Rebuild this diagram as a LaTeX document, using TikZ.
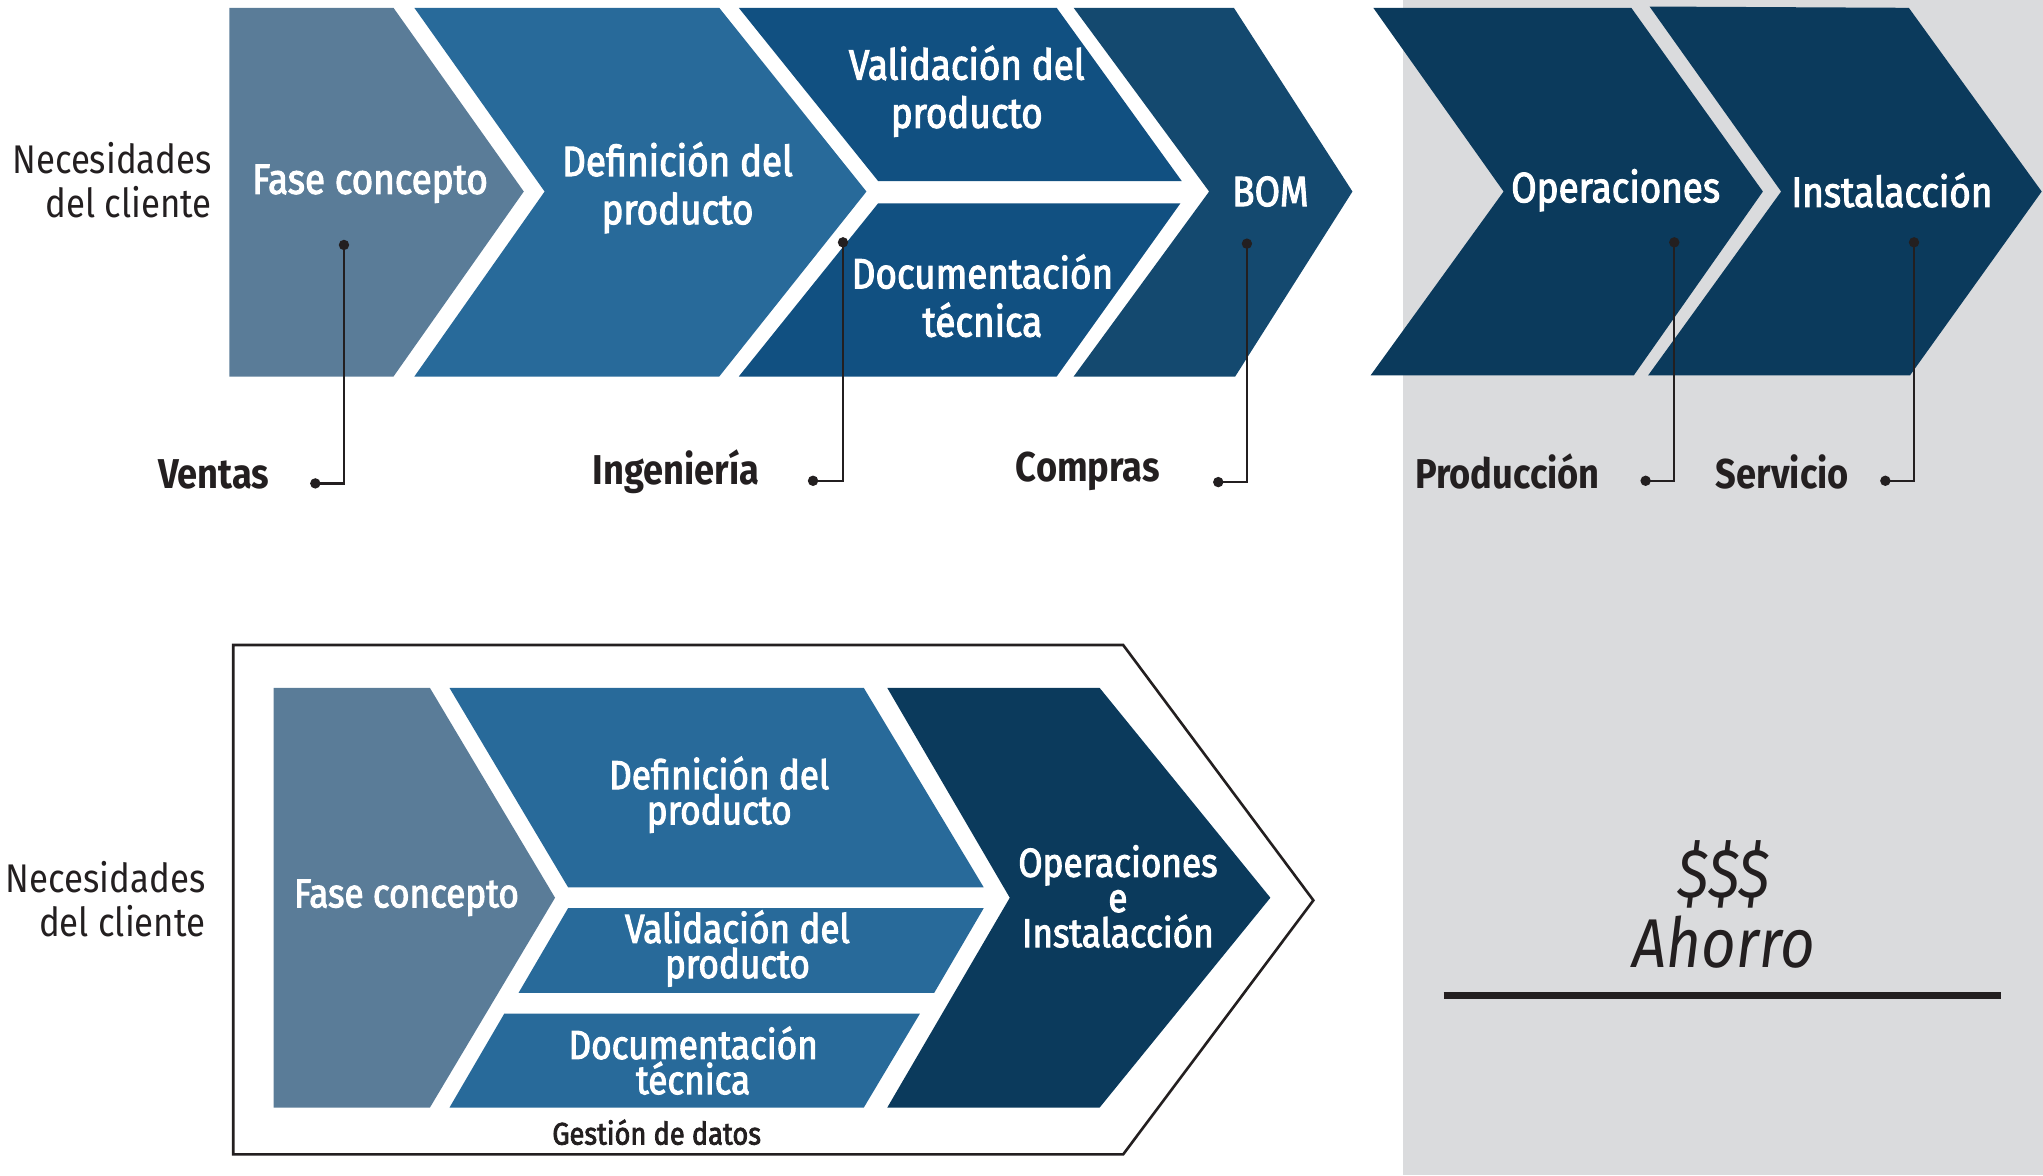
\documentclass[tikz,border=0pt]{standalone}
\usepackage{fontspec}
\setmainfont{Fira Sans}[FakeStretch=0.87]
\newfontfamily\wfont{Fira Sans}[FakeStretch=0.87, FakeBold=2.5]
\usetikzlibrary{calc}
\definecolor{cfase}{HTML}{5A7C98}
\definecolor{cdef}{HTML}{286A9A}
\definecolor{cval}{HTML}{115081}
\definecolor{cbom}{HTML}{14496F}
\definecolor{cops}{HTML}{0B3A5C}
\definecolor{cgrey}{HTML}{DADBDD}
\definecolor{cink}{HTML}{231F20}
\tikzset{
  wtxt/.style={text=white, align=center, inner sep=0pt, font=\wfont\fontsize{32.5}{37}\selectfont},
  wtxtb/.style={text=white, align=center, inner sep=0pt, font=\wfont\fontsize{31}{27}\selectfont},
  needs/.style={text=cink, align=right, inner sep=0pt, font=\fontsize{30.7}{34}\selectfont},
  dept/.style={text=cink, inner sep=0pt, font=\fontsize{32}{32}\selectfont\bfseries},
  dotn/.style={circle, fill=cink, inner sep=0pt, minimum size=8pt},
  conn/.style={draw=cink, line width=1.8pt},
}
\begin{document}
\begin{tikzpicture}[x=1pt, y=-1pt]
\useasboundingbox (0,0) rectangle (1568,902);
% grey panel
\fill[cgrey] (1077,0) rectangle (1568,902);
% ---- top row chevrons
\fill[cfase] (176,6) -- (302,6) -- (402,147) -- (302,289) -- (176,289) -- cycle;
\fill[cdef] (318,6) -- (552,6) -- (665,147) -- (552,289) -- (318,289) -- (418,147) -- cycle;
\fill[cval] (567,6) -- (811,6) -- (907,139) -- (674,139) -- cycle;
\fill[cval] (674,156) -- (906,156) -- (811,289) -- (567,289) -- cycle;
\fill[cbom] (824,6) -- (947,6) -- (1038,147) -- (948,289) -- (824,289) -- (928,147) -- cycle;
\fill[cops] (1054,6) -- (1252,6) -- (1353,147) -- (1254,288) -- (1052,288) -- (1154,147) -- cycle;
\fill[cops] (1266,5) -- (1465,6) -- (1567,147) -- (1466,288) -- (1265,288) -- (1367,147) -- cycle;
% top texts
\node[needs] (need1) at (86,138) {Necesidades\\del cliente};
\node[wtxt] (t1) at (284,141) {Fase concepto};
\node[wtxt] (t2) at (520,144) {Definición del\\producto};
\node[wtxt] (t3) at (742,70) {Validación del\\producto};
\node[wtxt] (t4) at (754,227) {Documentación\\técnica};
\node[wtxt] (t5) at (975,147) {BOM};
\node[wtxt] (t6) at (1240,146) {Operaciones};
\node[wtxt] (t7) at (1452,146) {Instalacción};
% departments
\node[dept] (l1) at (164,364) {Ventas};
\node[dept] (l2) at (519,362) {Ingeniería};
\node[dept] (l3) at (835,362) {Compras};
\node[dept] (l4) at (1157,362) {Producción};
\node[dept] (l5) at (1368,362) {Servicio};
% connectors
\node[dotn] (a1) at (264,188) {};
\node[dotn] (b1) at (242,371) {};
\node[dotn] (a2) at (647,186) {};
\node[dotn] (b2) at (624,369) {};
\node[dotn] (a3) at (957,187) {};
\node[dotn] (b3) at (935,370) {};
\node[dotn] (a4) at (1285,186) {};
\node[dotn] (b4) at (1263,369) {};
\node[dotn] (a5) at (1469,186) {};
\node[dotn] (b5) at (1447,369) {};
\draw[conn] (a1.center) |- (b1.center);
\draw[conn] (a2.center) |- (b2.center);
\draw[conn] (a3.center) |- (b3.center);
\draw[conn] (a4.center) |- (b4.center);
\draw[conn] (a5.center) |- (b5.center);
% ---- bottom
\draw[cink, line width=2pt] (179,495) -- (862,495) -- (1008,691) -- (862,886) -- (179,886) -- cycle;
\fill[cfase] (210,528) -- (330,528) -- (426,689) -- (330,850) -- (210,850) -- cycle;
\fill[cdef] (345,528) -- (663,528) -- (755,681) -- (436,681) -- cycle;
\fill[cdef] (436,697) -- (755,697) -- (717,762) -- (398,762) -- cycle;
\fill[cdef] (387,778) -- (706,778) -- (663,850) -- (345,850) -- cycle;
\fill[cops] (681,528) -- (844,528) -- (975,689) -- (844,850) -- (681,850) -- (775,689) -- cycle;
\node[needs] (need2) at (81,690) {Necesidades\\del cliente};
\node[wtxtb] (u1) at (312,689) {Fase concepto};
\node[wtxtb] (u2) at (552,610) {Definición del\\producto};
\node[wtxtb] (u3) at (566,728) {Validación del\\producto};
\node[wtxtb] (u4) at (532,814) {Documentación\\técnica};
\node[wtxtb] (u5) at (858,688) {Operaciones\\e\\Instalacción};
\node[text=cink, inner sep=0pt, font=\wfont\fontsize{24}{24}\selectfont] (gd) at (504,869) {Gestión de datos};
% savings
\node[text=cink, align=center, inner sep=0pt, font=\fontsize{53}{54}\selectfont\itshape] (sav) at (1323,694) {\$\$\$\\Ahorro};
\draw[cink, line width=6pt] (1108,764) -- (1536,764);
\end{tikzpicture}
\end{document}
